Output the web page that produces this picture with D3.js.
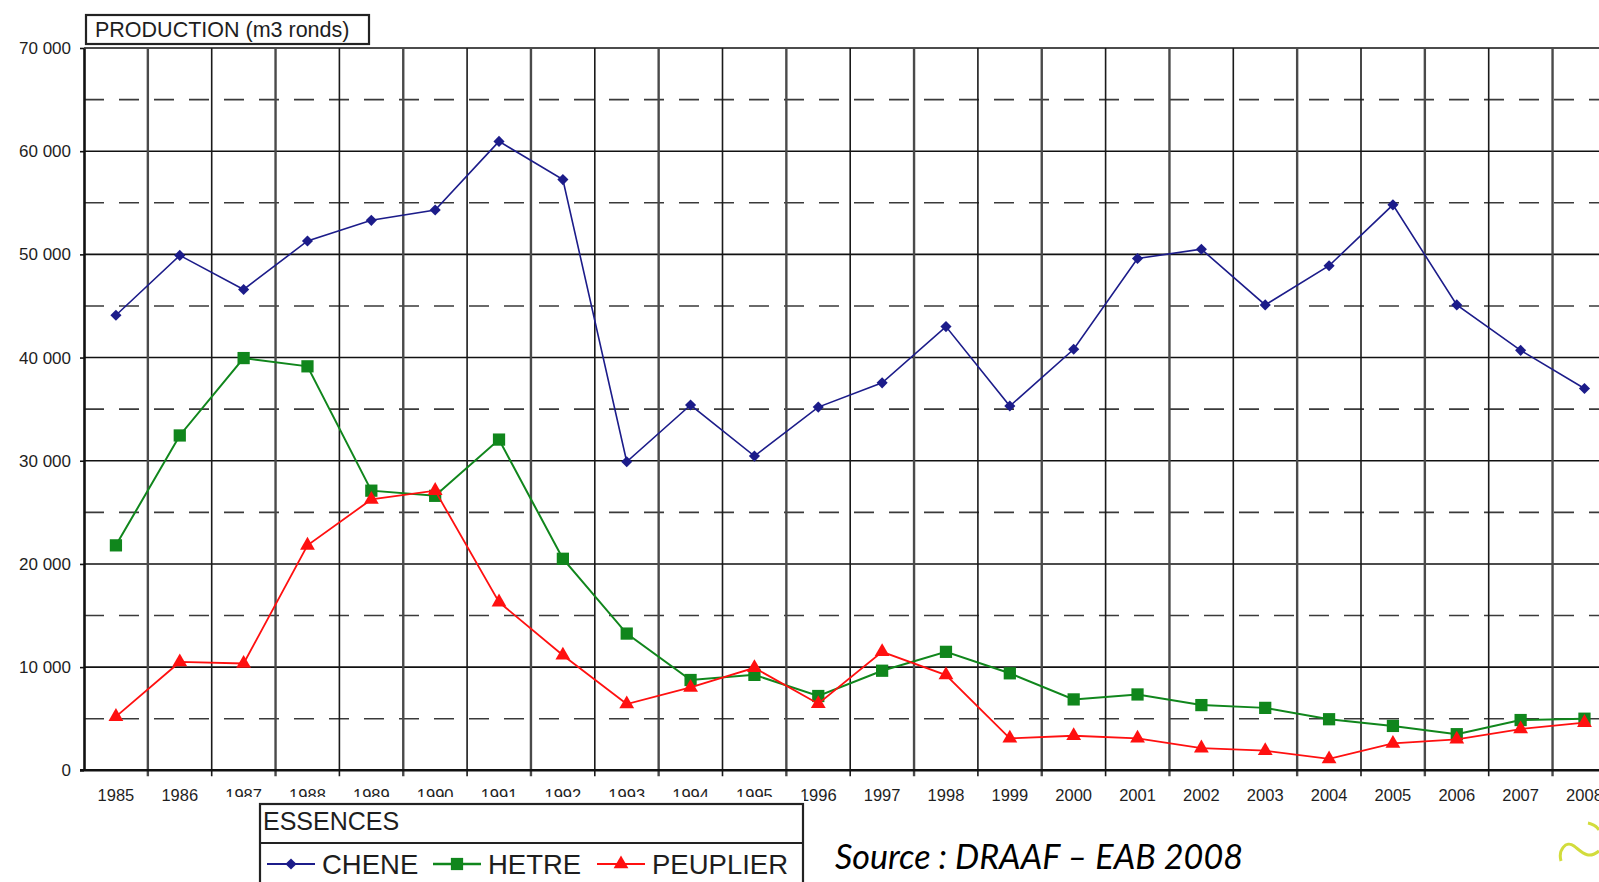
<!DOCTYPE html>
<html>
<head>
<meta charset="utf-8">
<script src="https://cdn.jsdelivr.net/npm/d3@7"></script>
<style>
  html, body { margin: 0; padding: 0; background: #fff; overflow: hidden; }
  svg { display: block; }
  text { font-family: "Liberation Sans", Arial, sans-serif; fill: #1e1e1e; }
</style>
</head>
<body>
<div id="plot"></div>
<script>
// values (m3 ronds)
var years = ["1985", "1986", "1987", "1988", "1989", "1990", "1991", "1992",
             "1993", "1994", "1995", "1996", "1997", "1998", "1999", "2000",
             "2001", "2002", "2003", "2004", "2005", "2006", "2007", "2008"];
var chene = [44100, 49900, 46600, 51300, 53300, 54300, 60950, 57250,
             29900, 35400, 30450, 35200, 37550, 43000, 35300, 40800,
             49600, 50500, 45100, 48900, 54800, 45100, 40700, 37000];
var hetre = [21800, 32450, 39950, 39150, 27100, 26600, 32050, 20500,
             13250, 8750, 9250, 7200, 9650, 11480, 9400, 6870,
             7350, 6320, 6050, 4950, 4300, 3500, 4870, 5000];
var peuplier = [5200, 10500, 10350, 21800, 26250, 27100, 16300, 11150,
                6420, 8030, 9930, 6450, 11480, 9230, 3100, 3350,
                3100, 2150, 1900, 1100, 2600, 3000, 4000, 4620];
var yTicks = [0, 10000, 20000, 30000, 40000, 50000, 60000, 70000];
var yDashed = [5000, 15000, 25000, 35000, 45000, 55000, 65000];
var seriesNames = ["CHENE", "HETRE", "PEUPLIER"];

var W = 1599, H = 882;
// plot box (runs past the right edge of the window, as in the original)
var plotL = 84, plotT = 48, plotB = 770.3,
    plotR = plotL + 24 * 63.85;

var svg = d3.select("#plot").append("svg")
    .attr("width", W)
    .attr("height", H);

var x = d3.scaleBand().domain(years).range([plotL, plotR]);
var y = d3.scaleLinear().domain([0, 70000]).range([plotB, plotT]);

// dashed half grid
svg.append("g").selectAll("line")
    .data(yDashed).join("line")
    .attr("x1", plotL).attr("x2", plotR)
    .attr("y1", d => y(d)).attr("y2", d => y(d))
    .attr("stroke", "#3a3a3a")
    .attr("stroke-width", 1.6)
    .attr("stroke-dasharray", "20,15");

// solid horizontal grid
svg.append("g").selectAll("line")
    .data(yTicks.slice(1)).join("line")
    .attr("x1", plotL).attr("x2", plotR)
    .attr("y1", d => y(d)).attr("y2", d => y(d))
    .attr("stroke", "#111")
    .attr("stroke-width", 1.6);

// vertical grid on category boundaries
svg.append("g").selectAll("line")
    .data(years.slice(1)).join("line")
    .attr("x1", d => x(d)).attr("x2", d => x(d))
    .attr("y1", plotT).attr("y2", plotB + 6)
    .attr("stroke", (d, i) => i % 2 ? "#1a1a1a" : "#4a4a4a")
    .attr("stroke-width", (d, i) => i % 2 ? 1.6 : 2.4);

// y axis
var fmt = d3.formatLocale({decimal: ",", thousands: " ", grouping: [3], currency: ["", ""]}).format(",");
var yAxis = svg.append("g")
    .attr("transform", "translate(" + plotL + ",0)")
    .call(d3.axisLeft(y).tickValues(yTicks).tickSize(4).tickSizeOuter(0).tickPadding(9).tickFormat(fmt));
yAxis.select(".domain").attr("stroke", "#111").attr("stroke-width", 2.6);
yAxis.selectAll(".tick line").attr("stroke", "#111").attr("stroke-width", 1.6);
yAxis.selectAll("text").style("font-size", "17px").attr("fill", "#1e1e1e");

// x axis line + labels
svg.append("line")
    .attr("x1", plotL - 4).attr("x2", plotR)
    .attr("y1", plotB).attr("y2", plotB)
    .attr("stroke", "#111").attr("stroke-width", 2.4);
var xAxis = svg.append("g")
    .attr("transform", "translate(0," + plotB + ")")
    .call(d3.axisBottom(x).tickSize(0).tickPadding(19));
xAxis.select(".domain").remove();
xAxis.selectAll("text").style("font-size", "16.5px").attr("fill", "#1e1e1e");

// series
var series = [
  {name: seriesNames[0], values: chene, color: "#1c1c8a", width: 1.6, shape: d3.symbolSquare, size: 62, rot: 45},
  {name: seriesNames[1], values: hetre, color: "#10861c", width: 2, shape: d3.symbolSquare, size: 150, rot: 0},
  {name: seriesNames[2], values: peuplier, color: "#ff1010", width: 1.8, shape: d3.symbolTriangle, size: 95, rot: 0}
];
var line = d3.line()
    .x((d, i) => x(years[i]) + x.bandwidth() / 2)
    .y(d => y(d));

series.forEach(function(s) {
  svg.append("path")
      .datum(s.values)
      .attr("fill", "none")
      .attr("stroke", s.color)
      .attr("stroke-width", s.width)
      .attr("d", line);
  svg.append("g").selectAll("path")
      .data(s.values).join("path")
      .attr("transform", (d, i) => "translate(" + (x(years[i]) + x.bandwidth() / 2) + "," + y(d) + ") rotate(" + s.rot + ")")
      .attr("d", d3.symbol().type(s.shape).size(s.size))
      .attr("fill", s.color);
});

// title box
var tb = svg.append("g");
tb.append("rect")
    .attr("x", 86).attr("y", 15).attr("width", 283).attr("height", 29)
    .attr("fill", "#fff").attr("stroke", "#222").attr("stroke-width", 2.2);
tb.append("text")
    .attr("x", 95).attr("y", 37)
    .style("font-size", "21.5px")
    .text("PRODUCTION (m3 ronds)");

// legend (its white backing hides the lower half of some year labels)
var lg = svg.append("g");
lg.append("rect")
    .attr("x", 222).attr("y", 797).attr("width", 582).attr("height", 90)
    .attr("fill", "#fff");
lg.append("rect")
    .attr("x", 260).attr("y", 804).attr("width", 543).attr("height", 90)
    .attr("fill", "#fff").attr("stroke", "#222").attr("stroke-width", 2.2);
lg.append("line")
    .attr("x1", 260).attr("x2", 803).attr("y1", 843).attr("y2", 843)
    .attr("stroke", "#222").attr("stroke-width", 2.2);
lg.append("text")
    .attr("x", 263).attr("y", 830)
    .style("font-size", "25px")
    .text("ESSENCES");

var legX = [267, 433, 597];
series.forEach(function(s, i) {
  var g = lg.append("g").attr("transform", "translate(" + legX[i] + ",864)");
  g.append("line")
      .attr("x1", 0).attr("x2", 48)
      .attr("stroke", s.color).attr("stroke-width", s.width + 0.4);
  g.append("path")
      .attr("transform", "translate(24,0) rotate(" + s.rot + ")")
      .attr("d", d3.symbol().type(s.shape).size(s.size))
      .attr("fill", s.color);
  g.append("text")
      .attr("x", 55).attr("y", 10)
      .style("font-size", "27.5px")
      .text(s.name);
});

// source note
svg.append("text")
    .attr("x", 835).attr("y", 869)
    .attr("textLength", 408)
    .attr("lengthAdjust", "spacingAndGlyphs")
    .style("font-family", "Lato, 'Open Sans', sans-serif")
    .style("font-style", "italic")
    .style("font-size", "34px")
    .style("fill", "#000")
    .text("Source : DRAAF \u2013 EAB 2008");

// corner swirl (logo fragment)
svg.append("path")
    .attr("d", "M1561,861 C1558,850 1566,840 1574,846 C1582,852 1588,860 1599,851")
    .attr("fill", "none").attr("stroke", "#d2dc3c").attr("stroke-width", 3);
svg.append("path")
    .attr("d", "M1588,823 C1593,824 1597,827 1599,830")
    .attr("fill", "none").attr("stroke", "#d2dc3c").attr("stroke-width", 3);
</script>
</body>
</html>
